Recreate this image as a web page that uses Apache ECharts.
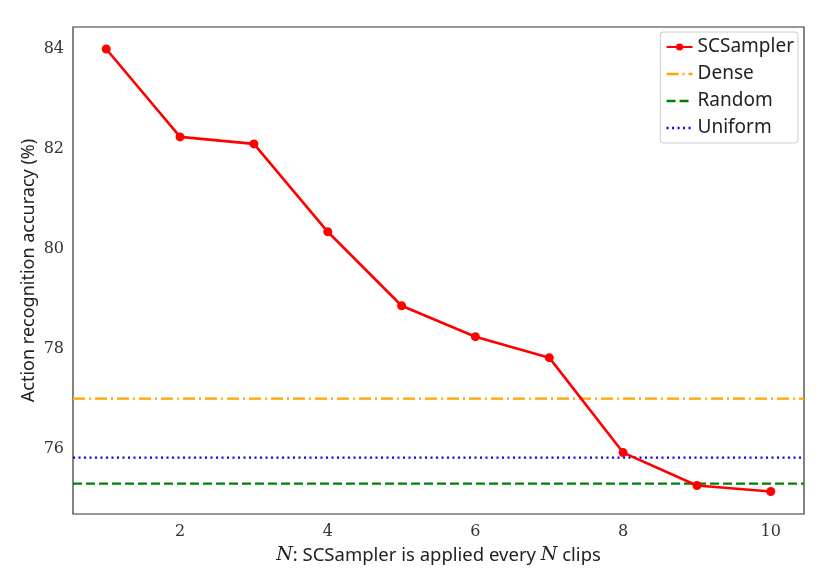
<!DOCTYPE html>
<html>
<head>
<meta charset="utf-8">
<script src="https://cdn.jsdelivr.net/npm/echarts@6/dist/echarts.min.js"></script>
<style>
html, body { margin: 0; padding: 0; background: #fff; }
#main { width: 831px; height: 587px; }
</style>
</head>
<body>
<div id="main"></div>
<script>
// N values and accuracies
var nValues = [1, 2, 3, 4, 5, 6, 7, 8, 9, 10];
var scsampler = [84.0, 82.24, 82.10, 80.34, 78.86, 78.24, 77.82, 75.92, 75.26, 75.14];
var denseAcc = 77.0;
var randomAcc = 75.3;
var uniformAcc = 75.82;
var xRange = [0.55, 10.45];
var yRange = [74.69, 84.44];
var xTicks = [2, 4, 6, 8, 10];
var yTicks = [76, 78, 80, 82, 84];

var serif = '"DejaVu Serif", "Liberation Serif", serif';
var sans = '"Noto Sans", "DejaVu Sans", sans-serif';

function flat(v) {
    return [[xRange[0], v], [xRange[1], v]];
}

window.onload = function () {
    var myChart = echarts.init(document.getElementById('main'));
    var hidden = { opacity: 0 };
    var thick = { width: 2.4 };
    var options = {
        animation: false,
        backgroundColor: '#fff',
        grid: {
            left: 73,
            right: 27,
            top: 27,
            bottom: 73,
            show: true,
            borderColor: '#333',
            borderWidth: 1.2
        },
        legend: {
            orient: 'vertical',
            right: 33,
            top: 32,
            itemGap: 5,
            itemWidth: 26,
            itemHeight: 9,
            padding: [4, 4, 4, 5],
            borderColor: '#ccc',
            borderWidth: 1,
            borderRadius: 3,
            backgroundColor: '#fff',
            textStyle: { fontFamily: sans, fontSize: 19, color: '#222', lineHeight: 22 },
            data: [
                { name: 'SCSampler', lineStyle: { width: 2 } },
                { name: 'Dense', itemStyle: hidden, lineStyle: thick },
                { name: 'Random', itemStyle: hidden, lineStyle: thick },
                { name: 'Uniform', itemStyle: hidden, lineStyle: thick }
            ]
        },
        xAxis: {
            type: 'value',
            min: xRange[0],
            max: xRange[1],
            axisLine: { show: false },
            axisTick: { show: false },
            splitLine: { show: false },
            axisLabel: {
                fontFamily: serif, fontSize: 16, color: '#333', margin: 10,
                customValues: xTicks
            },
            name: '{i|N}{t|: SCSampler is applied every }{i|N}{t| clips}',
            nameLocation: 'middle',
            nameGap: 32,
            nameTextStyle: {
                rich: {
                    i: { fontFamily: serif, fontStyle: 'italic', fontSize: 19, color: '#222' },
                    t: { fontFamily: sans, fontSize: 18.5, color: '#222' }
                }
            }
        },
        yAxis: {
            type: 'value',
            min: yRange[0],
            max: yRange[1],
            axisLine: { show: false },
            axisTick: { show: false },
            splitLine: { show: false },
            axisLabel: {
                fontFamily: serif, fontSize: 16, color: '#333', margin: 9,
                customValues: yTicks
            },
            name: 'Action recognition accuracy (%)',
            nameLocation: 'middle',
            nameMoveOverlap: false,
            nameGap: 35,
            nameTextStyle: { fontFamily: sans, fontSize: 18, color: '#222' }
        },
        series: [
            {
                name: 'Dense',
                type: 'line',
                data: flat(denseAcc),
                symbol: 'none',
                lineStyle: { color: '#FFA500', width: 2.2, type: [12, 4, 2, 4] },
                itemStyle: { color: '#FFA500' },
                z: 2
            },
            {
                name: 'Random',
                type: 'line',
                data: flat(randomAcc),
                symbol: 'none',
                lineStyle: { color: '#008000', width: 2.2, type: [9, 4] },
                itemStyle: { color: '#008000' },
                z: 2
            },
            {
                name: 'Uniform',
                type: 'line',
                data: flat(uniformAcc),
                symbol: 'none',
                lineStyle: { color: '#0000FF', width: 2.2, type: [2, 3.5] },
                itemStyle: { color: '#0000FF' },
                z: 2
            },
            {
                name: 'SCSampler',
                type: 'line',
                data: nValues.map(function (n, i) { return [n, scsampler[i]]; }),
                symbol: 'circle',
                symbolSize: 9,
                showAllSymbol: true,
                lineStyle: { color: '#FF0000', width: 2.6 },
                itemStyle: { color: '#FF0000' },
                z: 3
            }
        ]
    };
    myChart.setOption(options);
};
</script>
</body>
</html>
